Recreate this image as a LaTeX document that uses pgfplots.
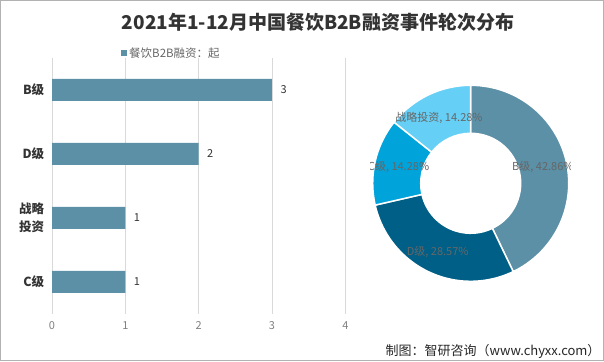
\documentclass[border=0pt]{standalone}
\usepackage{pgfplots}
\pgfplotsset{compat=1.18}
\usepackage{fontspec}
\setmainfont{Noto Sans CJK SC}
\definecolor{barc}{HTML}{5B90A6}
\definecolor{dc}{HTML}{005F86}
\definecolor{cc}{HTML}{00A3DA}
\definecolor{sc}{HTML}{66CFF5}
\definecolor{lblc}{HTML}{666666}
\begin{document}
\begin{tikzpicture}[x=1pt,y=1pt]
\useasboundingbox (0,0) rectangle (604,361);
\draw[gray!60,line width=1pt] (0.5,0.5) rectangle (603.5,360.5);
\node[font=\bfseries\fontsize{19}{22}\selectfont, text=black!80] at (318,339) {2021年1-12月中国餐饮B2B融资事件轮次分布};
\fill[barc] (121,305) rectangle (127,311);
\node[anchor=west, font=\fontsize{11.5}{13}\selectfont, text=lblc, inner sep=1pt] at (128,308) {餐饮B2B融资：起};
\node[anchor=east, font=\fontsize{13}{15}\selectfont, text=black!85] at (604,10) {制图：智研咨询（www.chyxx.com）};
\begin{axis}[at={(52pt,47pt)}, anchor=south west, scale only axis,
  width=293.3pt, height=256pt,
  xbar, bar width=22pt,
  xmin=0, xmax=4, ymin=-0.5, ymax=3.5,
  ytick={0,1,2,3}, yticklabels={C级,{战略\\投资},D级,B级},
  yticklabel style={align=center, font=\bfseries\fontsize{12.5}{18}\selectfont, text=black!80},
  xtick={0,1,2,3,4},
  xticklabel style={font=\fontsize{11}{12}\selectfont, text=gray, yshift=-4pt},
  /pgf/number format/assume math mode=true,
  xmajorgrids, major grid style={draw=gray!30, line width=0.8pt},
  axis line style={draw=none}, tick style={draw=none},
  nodes near coords,
  nodes near coords style={font=\fontsize{11}{12}\selectfont, text=black!80, xshift=5pt},
]
\addplot[fill=barc, draw=none] coordinates {(1,0) (1,1) (2,2) (3,3)};
\end{axis}
\pgfmathsetmacro\aA{90}
\pgfmathsetmacro\aB{\aA-360*3/7}
\pgfmathsetmacro\aC{\aB-360*2/7}
\pgfmathsetmacro\aD{\aC-360*1/7}
\pgfmathsetmacro\aE{\aD-360*1/7}
\pgfmathsetmacro\mA{(\aA+\aB)/2}
\pgfmathsetmacro\mB{(\aB+\aC)/2}
\pgfmathsetmacro\mC{(\aC+\aD)/2}
\pgfmathsetmacro\mD{(\aD+\aE)/2}
\begin{axis}[at={(470.7pt,177.7pt)}, anchor=center, scale only axis,
  width=200pt, height=200pt, xmin=-1, xmax=1, ymin=-1, ymax=1, hide axis]
\addplot[draw=none] coordinates {(0,0)};
\newcommand\slice[3]{%
  \fill[#3, draw=white, line width=1.5pt] ([shift={(#1:50pt)}]axis cs:0,0) -- ([shift={(#1:98pt)}]axis cs:0,0) arc[start angle=#1, end angle=#2, radius=98pt] -- ([shift={(#2:50pt)}]axis cs:0,0) arc[start angle=#2, end angle=#1, radius=50pt] -- cycle;}
\slice{\aA}{\aB}{barc}
\slice{\aB}{\aC}{dc}
\slice{\aC}{\aD}{cc}
\slice{\aD}{\aE}{sc}
\node[font=\fontsize{11}{12}\selectfont, text=lblc] at ([shift={(\mA:74pt)}]axis cs:0,0) {B级, 42.86\%};
\node[font=\fontsize{11}{12}\selectfont, text=lblc] at ([shift={(\mB:76pt)}]axis cs:0,0) {D级, 28.57\%};
\node[font=\fontsize{11}{12}\selectfont, text=lblc] at ([shift={(\mC:74pt)}]axis cs:0,0) {C级, 14.28\%};
\node[font=\fontsize{11}{12}\selectfont, text=lblc] at ([shift={(\mD:73pt)}]axis cs:0,0) {战略投资, 14.28\%};
\end{axis}
\end{tikzpicture}
\end{document}
